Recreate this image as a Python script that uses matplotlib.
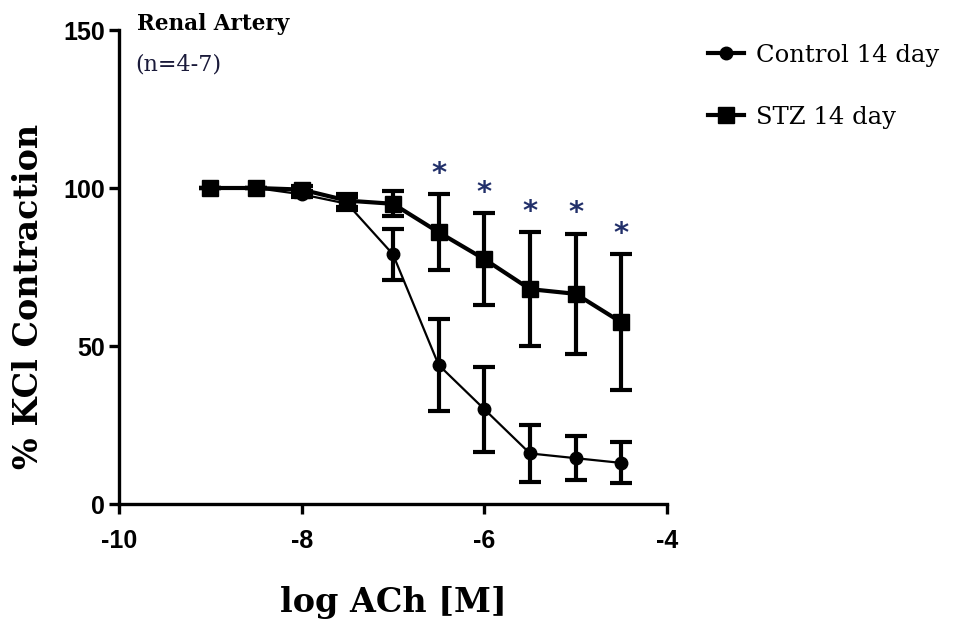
import matplotlib
matplotlib.use("Agg")
import matplotlib.pyplot as plt
from matplotlib.lines import Line2D

plt.rcParams["axes.unicode_minus"] = False

# log [ACh] (M)
log_ach = [-9, -8.5, -8, -7.5, -7, -6.5, -6, -5.5, -5, -4.5]

control_mean = [100, 100, 98, 95, 79, 44, 30, 16, 14.5, 13]
control_sem = [0, 0, 1, 2, 8, 14.5, 13.5, 9, 7, 6.5]

stz_mean = [100, 100, 99.5, 96, 95, 86, 77.5, 68, 66.5, 57.5]
stz_sem = [0, 0, 1, 2, 4, 12, 14.5, 18, 19, 21.5]

sig_points = [-6.5, -6, -5.5, -5, -4.5]

serif = "DejaVu Serif"
tick_font = "Liberation Sans"

fig = plt.figure(figsize=(9.58, 6.25), dpi=100)
ax = fig.add_axes([0.1242, 0.1936, 0.572, 0.7584])

ax.errorbar(log_ach, control_mean, yerr=control_sem, color="black",
            marker="o", markersize=9, linewidth=1.6, elinewidth=3,
            capsize=8, capthick=3)
ax.errorbar(log_ach, stz_mean, yerr=stz_sem, color="black",
            marker="s", markersize=11, linewidth=3, elinewidth=3,
            capsize=8, capthick=3)

# significance stars above the STZ error bars
for x in sig_points:
    i = log_ach.index(x)
    ax.text(x, stz_mean[i] + stz_sem[i] + 6.5, "*", ha="center", va="center",
            fontsize=21, fontweight="bold", color="#22306a",
            family="DejaVu Sans")

ax.set_xlim(-10, -4)
ax.set_ylim(0, 150)
ax.set_xticks([-10, -8, -6, -4])
ax.set_yticks([0, 50, 100, 150])
for s in ["top", "right"]:
    ax.spines[s].set_visible(False)
for s in ["left", "bottom"]:
    ax.spines[s].set_linewidth(2.4)
ax.tick_params(width=2.4, length=7, direction="out")
ax.tick_params(axis="x", pad=11)
ax.tick_params(axis="y", pad=3)
for lab in ax.get_xticklabels() + ax.get_yticklabels():
    lab.set_family(tick_font)
    lab.set_fontweight("bold")
    lab.set_fontsize(18)

ax.set_xlabel("log ACh [M]", family=serif, fontweight="bold", fontsize=24,
              labelpad=24)
ax.set_ylabel("% KCl Contraction", family=serif, fontweight="bold",
              fontsize=24)
ax.yaxis.set_label_coords(-0.135, 0.437)

ax.text(-9.8, 152, "Renal Artery", family=serif, fontweight="bold",
        fontsize=15.5, va="center")
ax.text(-9.82, 139, "(n=4-7)", family=serif, fontsize=16, va="center",
        color="#1a1a3a")

handles = [
    Line2D([], [], color="black", marker="o", markersize=9, linewidth=3),
    Line2D([], [], color="black", marker="s", markersize=11, linewidth=3),
]
fig.legend(handles=handles, labels=["Control 14 day", "STZ 14 day"],
           loc="upper left", bbox_to_anchor=(0.716, 0.965), frameon=False,
           prop={"family": serif, "size": 17.5}, labelspacing=1.6,
           handlelength=1.5, handletextpad=0.5)

fig.savefig("out.png", dpi=100)
